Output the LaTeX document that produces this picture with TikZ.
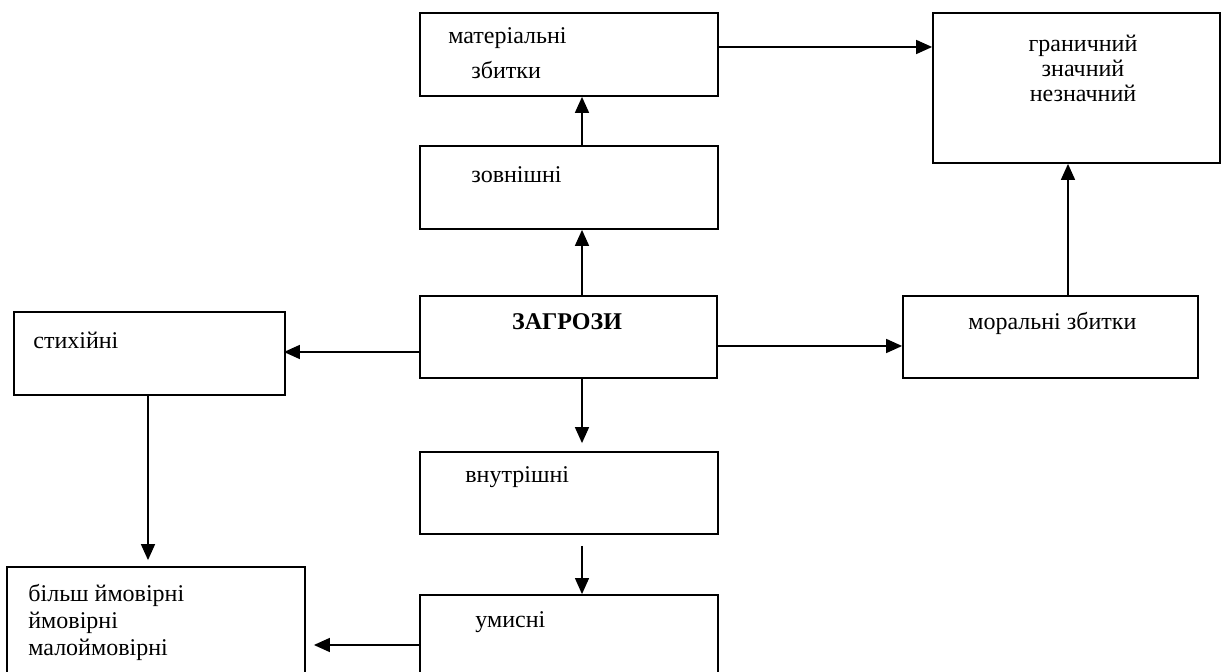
\documentclass[tikz,border=0pt]{standalone}
\usepackage{fontspec}
\setmainfont{Liberation Serif}
\usetikzlibrary{arrows.meta}

\tikzset{
  box/.style={draw, line width=0.9pt, inner sep=0pt},
  arr/.style={line width=0.8pt, -{Triangle[length=8pt,width=7pt]}},
  lbl/.style={anchor=west, inner sep=0pt, font=\fontsize{12}{13.5}\selectfont},
}

\begin{document}
\begin{tikzpicture}[x=0.5pt,y=0.5pt,yscale=-1]
\useasboundingbox (0,0) rectangle (1221,672);

%Shape: Rectangle [id:matl]
\node[box, minimum width=149pt, minimum height=41.5pt] (matl) at (569,54.5) {};
%Shape: Rectangle [id:thresh]
\node[box, minimum width=143.5pt, minimum height=75pt] (thresh) at (1076.5,88) {};
%Shape: Rectangle [id:ext]
\node[box, minimum width=149pt, minimum height=41.5pt] (ext) at (569,187.5) {};
%Shape: Rectangle [id:threat]
\node[box, minimum width=148.5pt, minimum height=41pt] (threat) at (568.5,337) {};
%Shape: Rectangle [id:nat]
\node[box, minimum width=135.5pt, minimum height=41.5pt] (nat) at (149.5,353.5) {};
%Shape: Rectangle [id:moral]
\node[box, minimum width=147.5pt, minimum height=41pt] (moral) at (1050.5,337) {};
%Shape: Rectangle [id:int]
\node[box, minimum width=149pt, minimum height=41pt] (int) at (569,493) {};
%Shape: Rectangle [id:prob]
\node[box, minimum width=149pt, minimum height=56.5pt] (prob) at (156,623.5) {};
%Shape: Rectangle [id:delib]
\node[box, minimum width=149pt, minimum height=42.5pt] (delib) at (569,637.5) {};

%Straight Lines [id:a1]
\draw[arr] ([xshift=6.5pt]ext.north) -- ([xshift=6.5pt]matl.south);
%Straight Lines [id:a2]
\draw[arr] ([xshift=6.75pt]threat.north) -- ([xshift=6.75pt]threat.north |- ext.south);
%Straight Lines [id:a3]
\draw[arr, shorten >=4pt] ([xshift=6.75pt]threat.south) -- ([xshift=6.75pt]threat.south |- int.north);
%Straight Lines [id:a4]
\draw[arr, line width=0.6pt, shorten <=5.5pt] ([xshift=6.5pt]int.south) -- ([xshift=6.5pt]delib.north);
%Straight Lines [id:a5]
\draw[arr] ([yshift=-3.75pt]matl.east) -- ([yshift=-3.75pt]matl.east -| thresh.west);
%Straight Lines [id:a6]
\draw[arr] ([xshift=8.75pt]moral.north) -- ([xshift=8.75pt]moral.north |- thresh.south);
%Straight Lines [id:a7]
\draw[arr, shorten >=-1pt] ([yshift=7.5pt]threat.west) -- ([yshift=7.5pt]threat.west -| nat.east);
%Straight Lines [id:a8]
\draw[arr] ([yshift=4.5pt]threat.east) -- ([yshift=4.5pt]threat.east -| moral.west);
%Straight Lines [id:a9]
\draw[arr, shorten >=3pt] ([xshift=-0.75pt]nat.south) -- ([xshift=-0.75pt]nat.south |- prob.north);
%Straight Lines [id:a10]
\draw[arr, shorten >=4pt] ([yshift=3.75pt]delib.west) -- ([yshift=3.75pt]delib.west -| prob.east);

% Text Node
\node[lbl] (tmatl1) at (448,38) {матеріальні};
% Text Node
\node[lbl] (tmatl2) at (471,70) {збитки};
% Text Node
\node[lbl, anchor=center, align=center, font=\fontsize{12}{12.5}\selectfont] (tthresh) at (1083,68) {граничний\\значний\\незначний};
% Text Node
\node[lbl] (text) at (471,175) {зовнішні};
% Text Node
\node[lbl, anchor=center, font=\fontsize{12}{13.5}\selectfont\bfseries] (tthreat) at (567,322) {ЗАГРОЗИ};
% Text Node
\node[lbl] (tnat) at (33,340) {стихійні};
% Text Node
\node[lbl] (tmoral) at (968,323) {моральні збитки};
% Text Node
\node[lbl] (tint) at (465,477) {внутрішні};
% Text Node
\node[lbl, align=left] (tprob) at (28,622) {більш ймовірні\\ймовірні\\малоймовірні};
% Text Node
\node[lbl] (tdelib) at (475,622) {умисні};

\end{tikzpicture}
\end{document}
